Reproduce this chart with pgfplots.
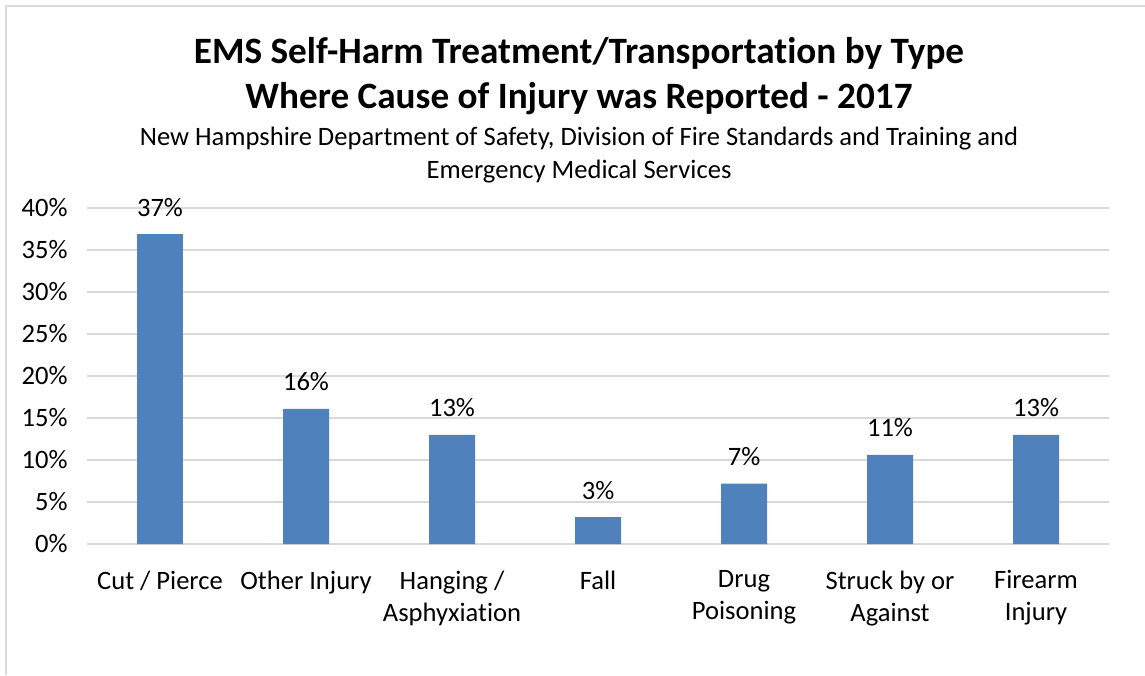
\documentclass[border=0pt]{standalone}
\usepackage{pgfplots}
\pgfplotsset{compat=1.18}
\usepackage{fontspec}
\setmainfont{Carlito}[Ligatures=NoCommon]
\definecolor{barblue}{HTML}{4F81BD}
\definecolor{gridgray}{HTML}{D9D9D9}
\begin{document}
\begin{tikzpicture}[x=0.75bp,y=-0.75bp]
% picture frame in image pixels (y downward)
\path[use as bounding box] (0,0) rectangle (1145,675);
\draw[gridgray, line width=1.5bp] (6,675) -- (6,6) -- (1145,6);
\coordinate (O) at (87,544);
\begin{axis}[
  at={(O)}, anchor=south west,
  scale only axis, width=766.5bp, height=252bp,
  ymin=0, ymax=40, xmin=-0.5, xmax=6.5,
  ybar, bar width=0.315,
  axis line style={draw=none},
  ytick={0,5,...,40},
  yticklabel={\pgfmathprintnumber{\tick}\%},
  yticklabel style={font=\fontsize{20}{24}\selectfont, xshift=-11bp},
  ymajorgrids, grid style={gridgray, line width=1bp},
  major tick length=0pt,
  xtick={0,...,6},
  xticklabels={Cut / Pierce, Other Injury, Hanging /\\Asphyxiation, Fall, Drug\\Poisoning, Struck by or\\Against, Firearm\\Injury},
  xticklabel style={font=\fontsize{20}{24}\selectfont, align=center, yshift=-16.5bp},
  /pgf/number format/assume math mode=true,
  nodes near coords={\pgfmathprintnumber[fixed,precision=0]{\pgfplotspointmeta}\%},
  nodes near coords style={font=\fontsize{20}{24}\selectfont, anchor=base, inner sep=0pt, yshift=13.5bp},
  clip=false,
]
\draw[gridgray, line width=1bp] (axis cs:-0.5,0) -- (axis cs:6.5,0);
\addplot[fill=barblue, draw=none] coordinates {
  (0,36.9) (1,16.1) (2,13.0) (3,3.2) (4,7.2) (5,10.6) (6,13.0)};
\end{axis}
\node[anchor=base, font=\fontsize{28}{32}\selectfont\bfseries] at (579,63) {EMS Self-Harm Treatment/Transportation by Type};
\node[anchor=base, font=\fontsize{28}{32}\selectfont\bfseries] at (579,108) {Where Cause of Injury was Reported - 2017};
\node[anchor=base, font=\fontsize{20}{24}\selectfont] at (579,145) {New Hampshire Department of Safety, Division of Fire Standards and Training and};
\node[anchor=base, font=\fontsize{20}{24}\selectfont] at (579,178) {Emergency Medical Services};
\end{tikzpicture}
\end{document}
